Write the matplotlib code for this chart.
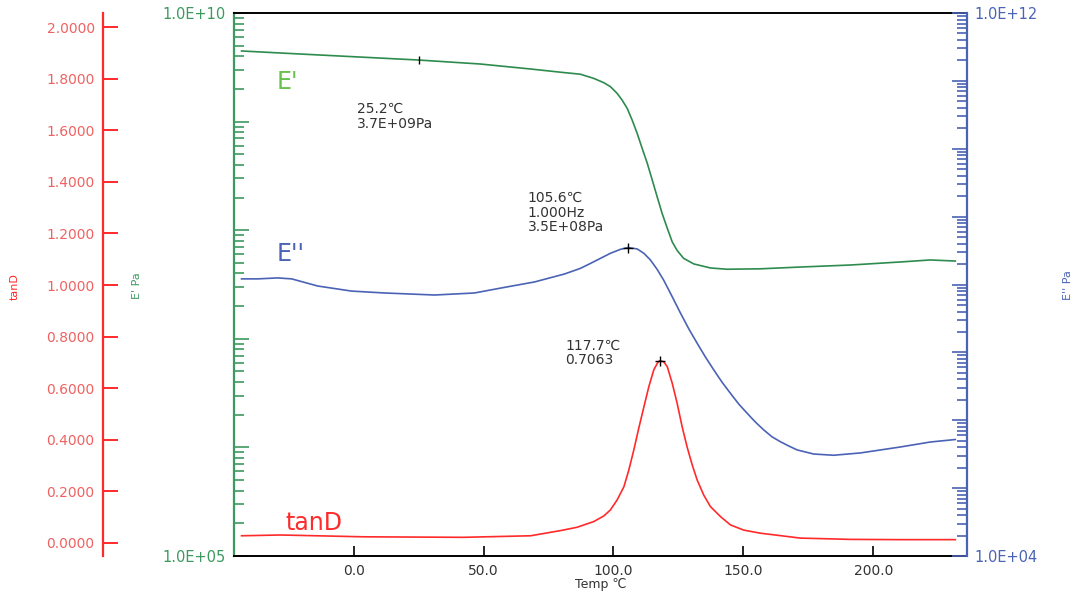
import numpy as np
import matplotlib
matplotlib.use('Agg')
import matplotlib.pyplot as plt
from matplotlib.ticker import LogLocator, FuncFormatter, FixedLocator

plt.rcParams['font.family'] = ['DejaVu Sans']

# 数据: 温度(℃) 与 E'、E''(Pa)、tanD
t_e1 = [-43.1, -20.4, 25.0, 48.8, 68.1, 79.6, 87.3, 92.4, 96.3, 98.8, 101.4, 103.3, 105.3,
        107.2, 109.1, 111.0, 113.0, 114.9, 116.8, 118.7, 120.7, 122.6, 124.5, 127.0, 130.9,
        137.3, 143.7, 156.5, 171.9, 191.2, 210.4, 221.9, 231.5]
e1 = [4.47e9, 4.19e9, 3.69e9, 3.39e9, 3.05e9, 2.85e9, 2.73e9, 2.50e9, 2.28e9, 2.10e9, 1.82e9, 1.58e9, 1.32e9,
      1.03e9, 7.8e8, 5.7e8, 4.13e8, 2.9e8, 2.03e8, 1.43e8, 1.04e8, 7.8e7, 6.5e7, 5.5e7, 4.89e7,
      4.49e7, 4.37e7, 4.41e7, 4.58e7, 4.78e7, 5.10e7, 5.32e7, 5.2e7]

t_e2 = [-43.1, -36.9, -29.2, -23.8, -13.8, -0.8, 11.9, 31.2, 46.5, 56.9, 69.6, 81.2, 87.3, 91.2,
        95.0, 98.8, 102.7, 105.6, 109.1, 111.7, 114.2, 116.8, 119.3, 122.6, 125.8, 129.0, 132.2,
        135.4, 138.6, 141.8, 145.0, 148.2, 151.4, 154.6, 157.8, 161.0, 164.2, 167.4, 170.7, 177.0,
        184.7, 195.0, 202.7, 210.4, 221.9, 231.5]
e2 = [1.21e8, 1.21e8, 1.25e8, 1.21e8, 9.5e7, 8.0e7, 7.5e7, 7.0e7, 7.5e7, 8.9e7, 1.09e8, 1.43e8, 1.73e8, 2.05e8,
      2.43e8, 2.88e8, 3.30e8, 3.5e8, 3.34e8, 2.88e8, 2.30e8, 1.67e8, 1.16e8, 6.6e7, 3.77e7, 2.21e7, 1.36e7,
      8.5e6, 5.5e6, 3.62e6, 2.49e6, 1.73e6, 1.27e6, 9.4e5, 7.2e5, 5.7e5, 4.83e5, 4.18e5, 3.65e5, 3.18e5,
      3.05e5, 3.30e5, 3.65e5, 4.04e5, 4.78e5, 5.2e5]

t_tan = [-43.1, -28.1, 3.8, 42.3, 68.1, 79.6, 86.0, 92.4, 96.3, 98.8, 101.4, 104.0, 105.9, 107.8,
         109.7, 111.7, 113.6, 115.5, 117.0, 117.7, 119.3, 120.7, 122.6, 124.5, 126.4, 128.3, 130.3,
         132.2, 134.7, 137.3, 141.2, 145.0, 150.1, 156.5, 171.9, 191.2, 210.4, 231.5]
tand = [0.028, 0.031, 0.024, 0.022, 0.028, 0.048, 0.061, 0.083, 0.105, 0.128, 0.167, 0.218, 0.283, 0.360,
        0.444, 0.528, 0.606, 0.671, 0.699, 0.7063, 0.703, 0.683, 0.619, 0.541, 0.451, 0.373, 0.302,
        0.244, 0.186, 0.141, 0.102, 0.070, 0.050, 0.038, 0.019, 0.014, 0.013, 0.013]

x_ticks = [0, 50, 100, 150, 200]
tan_ticks = [0.0, 0.2, 0.4, 0.6, 0.8, 1.0, 1.2, 1.4, 1.6, 1.8, 2.0]

green = '#3c9a5f'
green_line = '#2e8b4e'
blue = '#4a63b5'
red = '#ff2a2a'
red_txt = '#f06262'

W, H = 1074, 591
fig = plt.figure(figsize=(W / 100, H / 100), dpi=100)
L, R, T, B = 234, 967, 13, 556
ax = fig.add_axes([L / W, 1 - B / H, (R - L) / W, (B - T) / H])
ax2 = ax.twinx()
ax3 = ax.twinx()

# E'
ax.plot(t_e1, e1, color=green_line, lw=1.2)
ax.plot(25.2, 3.7e9, marker='|', color='k', ms=6, mew=1)
ax.set_yscale('log')
ax.set_ylim(1e5, 1e10)
ax.set_xlim(-46, 236)
ax.yaxis.set_major_locator(LogLocator(base=10, numticks=12))
ax.yaxis.set_minor_locator(LogLocator(base=10, subs=np.arange(2, 10), numticks=12))
ax.yaxis.set_major_formatter(FuncFormatter(lambda v, p: '%.1E' % v if v in (1e5, 1e10) else ''))
ax.yaxis.set_minor_formatter(FuncFormatter(lambda v, p: ''))
ax.tick_params(axis='y', which='major', direction='in', length=11, width=1.2, color=green,
               labelcolor=green, labelsize=10.5, pad=6)
ax.tick_params(axis='y', which='minor', direction='in', length=7, width=1.2, color=green)
ax.xaxis.set_major_locator(FixedLocator(x_ticks))
ax.xaxis.set_major_formatter(FuncFormatter(lambda v, p: '%.1f' % v))
ax.tick_params(axis='x', direction='in', length=7, width=1.2, color='k', labelcolor='#333333',
               labelsize=10, pad=6)
ax.set_xlabel('Temp ℃', fontsize=9, color='#333333', labelpad=0)
ax.spines['left'].set_color(green)
ax.spines['left'].set_linewidth(1.6)
ax.spines['right'].set_visible(False)
ax.spines['top'].set_linewidth(1.4)
ax.spines['bottom'].set_linewidth(1.4)

# E''
ax2.plot(t_e2, e2, color=blue, lw=1.2)
ax2.plot(105.6, 3.5e8, marker='+', color='k', ms=7, mew=1)
ax2.set_yscale('log')
ax2.set_ylim(1e4, 1e12)
ax2.yaxis.set_major_locator(LogLocator(base=10, numticks=12))
ax2.yaxis.set_minor_locator(LogLocator(base=10, subs=np.arange(2, 10), numticks=12))
ax2.yaxis.set_major_formatter(FuncFormatter(lambda v, p: '%.1E' % v if v in (1e4, 1e12) else ''))
ax2.yaxis.set_minor_formatter(FuncFormatter(lambda v, p: ''))
ax2.tick_params(axis='y', which='major', direction='in', length=11, width=1.2, color=blue,
                labelcolor=blue, labelsize=10.5, pad=5)
ax2.tick_params(axis='y', which='minor', direction='in', length=7, width=1.2, color=blue)
for s in ['left', 'top', 'bottom']:
    ax2.spines[s].set_visible(False)
ax2.spines['right'].set_color(blue)
ax2.spines['right'].set_linewidth(1.6)

# tanD
ax3.plot(t_tan, tand, color=red, lw=1.2)
ax3.plot(117.7, 0.7063, marker='+', color='k', ms=7, mew=1)
ax3.set_ylim(-0.0504, 2.0543)
ax3.yaxis.set_ticks_position('left')
ax3.yaxis.set_label_position('left')
ax3.spines['left'].set_position(('axes', (103 - L) / (R - L)))
ax3.spines['left'].set_color(red)
ax3.spines['left'].set_linewidth(1.6)
for s in ['right', 'top', 'bottom']:
    ax3.spines[s].set_visible(False)
ax3.yaxis.set_major_locator(FixedLocator(tan_ticks))
ax3.yaxis.set_major_formatter(FuncFormatter(lambda v, p: '%.4f' % v))
ax3.tick_params(axis='y', direction='in', length=11, width=1.4, color=red,
                labelcolor=red_txt, labelsize=10, pad=6)

# 注释文字
ax.text(0.168, 0.836, '25.2℃\n3.7E+09Pa', transform=ax.transAxes, fontsize=10,
        color='#333333', va='top', ha='left', linespacing=1.05)
ax.text(0.401, 0.672, '105.6℃\n1.000Hz\n3.5E+08Pa', transform=ax.transAxes, fontsize=10,
        color='#333333', va='top', ha='left', linespacing=1.05)
ax.text(0.4516, 0.400, '117.7℃\n0.7063', transform=ax.transAxes, fontsize=10,
        color='#333333', va='top', ha='left', linespacing=1.05)

# 曲线名称
fig.text(277 / W, 1 - 89 / H, "E'", fontsize=17, color='#66c24a', ha='left', va='baseline')
fig.text(277 / W, 1 - 261 / H, "E''", fontsize=17, color=blue, ha='left', va='baseline')
fig.text(285 / W, 1 - 530 / H, 'tanD', fontsize=17, color=red, ha='left', va='baseline')

# 轴标题
fig.text(15 / W, 1 - 287 / H, 'tanD', fontsize=8, color=red, rotation=90, ha='center', va='center')
fig.text(137 / W, 1 - 286 / H, "E' Pa", fontsize=8, color=green, rotation=90, ha='center', va='center')
fig.text(1068 / W, 1 - 285 / H, "E'' Pa", fontsize=8, color=blue, rotation=90, ha='center', va='center')

fig.savefig('out.png', dpi=100)
